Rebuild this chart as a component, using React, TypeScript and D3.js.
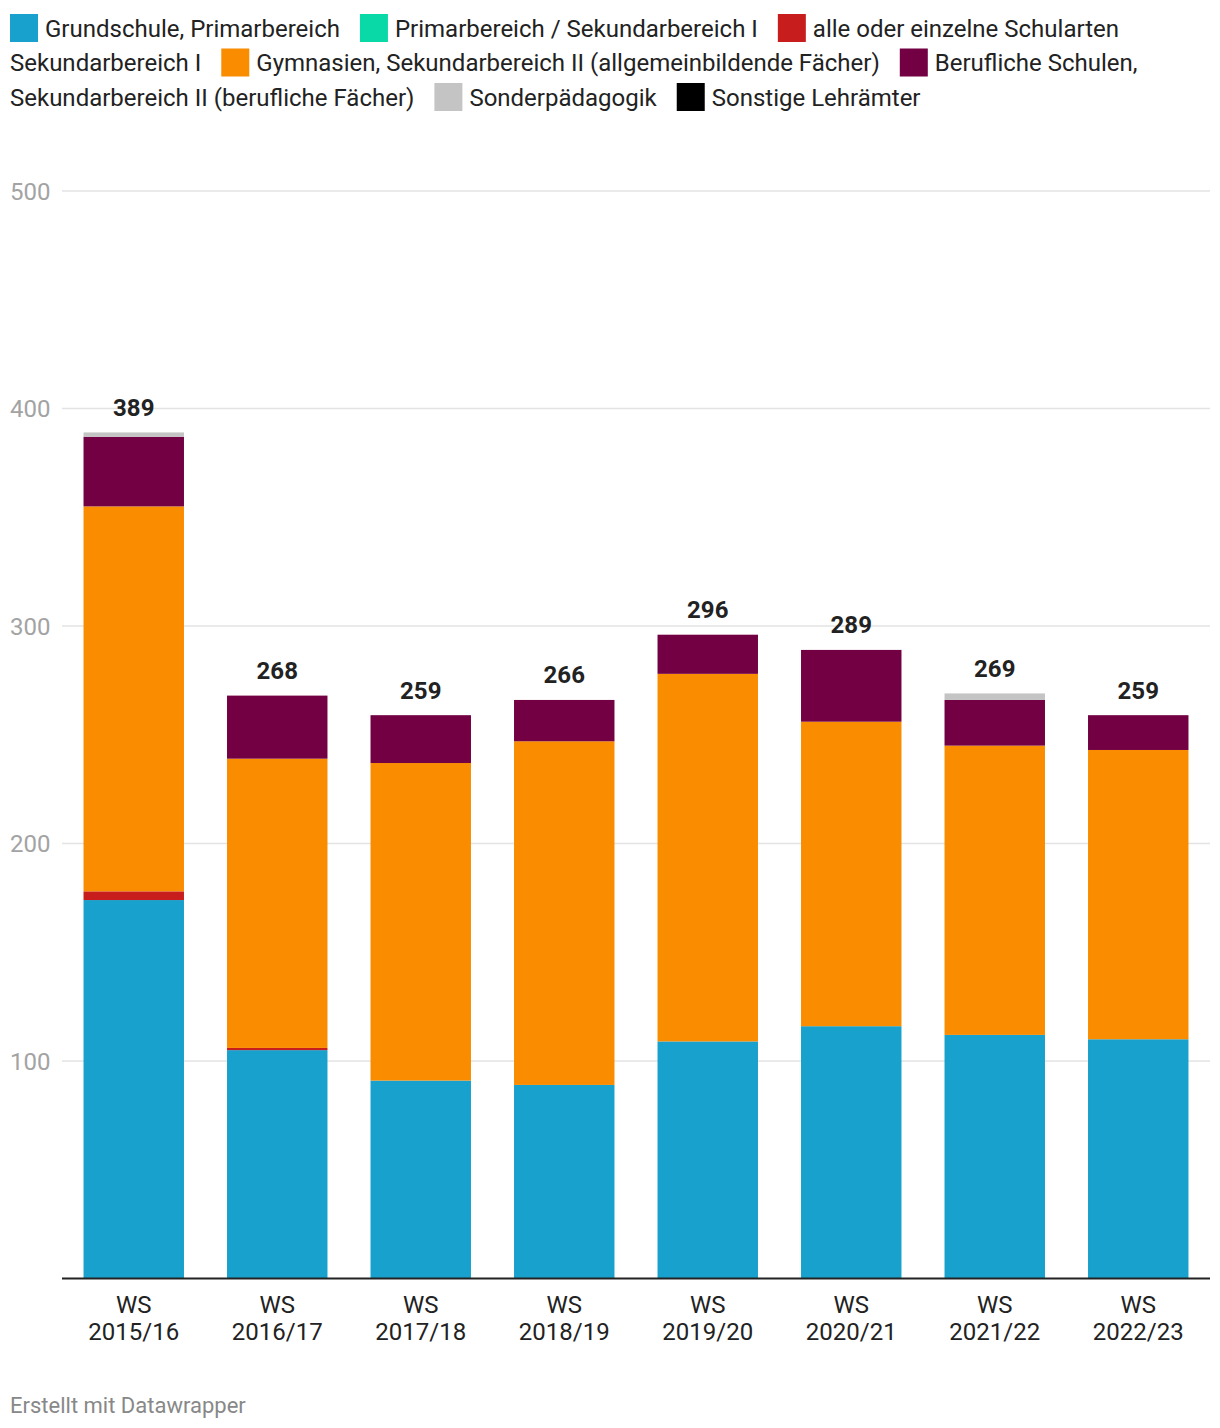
import React from "react";
import * as d3 from "d3";

const categories = ["WS 2015/16", "WS 2016/17", "WS 2017/18", "WS 2018/19", "WS 2019/20", "WS 2020/21", "WS 2021/22", "WS 2022/23"];
const seriesNames = [
  "Grundschule, Primarbereich",
  "Primarbereich / Sekundarbereich I",
  "alle oder einzelne Schularten Sekundarbereich I",
  "Gymnasien, Sekundarbereich II (allgemeinbildende Fächer)",
  "Berufliche Schulen, Sekundarbereich II (berufliche Fächer)",
  "Sonderpädagogik",
  "Sonstige Lehrämter",
];
const grundschule = [174, 105, 91, 89, 109, 116, 112, 110];
const primSek = [0, 0, 0, 0, 0, 0, 0, 0];
const alleSchularten = [4, 1, 0, 0, 0, 0, 0, 0];
const gymnasien = [177, 133, 146, 158, 169, 140, 133, 133];
const beruflich = [32, 29, 22, 19, 18, 33, 21, 16];
const sonder = [2, 0, 0, 0, 0, 0, 3, 0];
const sonstige = [0, 0, 0, 0, 0, 0, 0, 0];
const yTicks = [100, 200, 300, 400, 500];
const colors = ["#18a1cd", "#09d9a6", "#c71e1d", "#fa8c00", "#730042", "#c4c4c4", "#000000"];

const seriesValues = [grundschule, primSek, alleSchularten, gymnasien, beruflich, sonder, sonstige];

const W = 1220;
const H = 1428;
const FONT = "Roboto, 'Noto Sans', sans-serif";
const FS = 24;

const measureCanvas = typeof document !== "undefined" ? document.createElement("canvas") : null;
function textWidth(t: string, size: number, weight = 400) {
  const ctx = measureCanvas!.getContext("2d")!;
  ctx.font = `${weight} ${size}px Roboto`;
  return ctx.measureText(t).width;
}

function layoutLegend() {
  const fs = FS;
  const maxX = 1212;
  const sq = 28;
  const rowH = 34.5;
  const items: { type: "sq" | "txt"; x: number; row: number; text?: string; color?: string }[] = [];
  let x = 10;
  let row = 0;
  seriesNames.forEach((name, i) => {
    if (x + sq + 7 > maxX) { x = 10; row++; }
    items.push({ type: "sq", x, row, color: colors[i] });
    x += sq + 7;
    const words = name.split(" ");
    let line = "";
    let lineX = x;
    words.forEach((w) => {
      const cand = line ? line + " " + w : w;
      if (lineX + textWidth(cand, fs) > maxX && line) {
        items.push({ type: "txt", x: lineX, row, text: line });
        row++;
        lineX = 10;
        line = w;
      } else {
        line = cand;
      }
    });
    items.push({ type: "txt", x: lineX, row, text: line });
    x = lineX + textWidth(line, fs) + 20;
  });
  return { items, fs, sq, rowH };
}

export default function App() {
  React.useEffect(() => {
    document.body.style.margin = "0";
  }, []);

  const x = d3.scaleBand<string>().domain(categories).range([62, 1210]).paddingInner(0.3).paddingOuter(0.15);
  const y = d3.scaleLinear().domain([0, 500]).range([1278.5, 191]);

  const table = categories.map((c, i) => {
    const row: Record<string, number | string> = { cat: c };
    seriesNames.forEach((s, k) => (row[s] = seriesValues[k][i]));
    return row;
  });
  const stack = d3.stack<Record<string, number | string>>().keys(seriesNames).value((d, k) => d[k] as number);
  const stacked = stack(table);
  const totals = categories.map((_, i) => d3.sum(seriesValues, (s) => s[i]));

  const legend = layoutLegend();

  return (
    <svg width={W} height={H} style={{ position: "absolute", left: 0, top: 0, background: "#fff" }} fontFamily={FONT}>
      <rect width={W} height={H} fill="#fff" />
      {legend.items.map((it, i) =>
        it.type === "sq" ? (
          <rect key={i} x={it.x} y={14 + it.row * legend.rowH} width={legend.sq} height={legend.sq} fill={it.color} />
        ) : (
          <text key={i} x={it.x} y={36.5 + it.row * legend.rowH} fontSize={legend.fs} fill="#222">
            {it.text}
          </text>
        )
      )}
      {yTicks.map((t) => (
        <g key={t}>
          <line x1={62} x2={1210} y1={y(t)} y2={y(t)} stroke="#e3e3e3" strokeWidth={1.5} />
          <text x={10} y={y(t) + 8.5} fontSize={FS} fill="#a3a3a3">
            {t}
          </text>
        </g>
      ))}
      {stacked.map((layer, k) =>
        layer.map((d, i) =>
          d[1] - d[0] > 0 ? (
            <rect
              key={`${k}-${i}`}
              x={x(categories[i])!}
              y={y(d[1])}
              width={x.bandwidth()}
              height={y(d[0]) - y(d[1])}
              fill={colors[k]}
            />
          ) : null
        )
      )}
      <line x1={62} x2={1210} y1={1278.5} y2={1278.5} stroke="#222" strokeWidth={2} />
      {categories.map((c, i) => (
        <text key={c} x={x(c)! + x.bandwidth() / 2} y={y(totals[i]) - 16.5} textAnchor="middle" fontSize={FS} fontWeight={700} fill="#222">
          {totals[i]}
        </text>
      ))}
      {categories.map((c) => {
        const [a, b] = c.split(" ");
        const cx = x(c)! + x.bandwidth() / 2;
        return (
          <text key={c} x={cx} textAnchor="middle" fontSize={FS} fill="#222">
            <tspan x={cx} y={1312.5}>{a}</tspan>
            <tspan x={cx} y={1340}>{b}</tspan>
          </text>
        );
      })}
      <text x={10} y={1413} fontSize={22} fill="#888">
        Erstellt mit Datawrapper
      </text>
    </svg>
  );
}
